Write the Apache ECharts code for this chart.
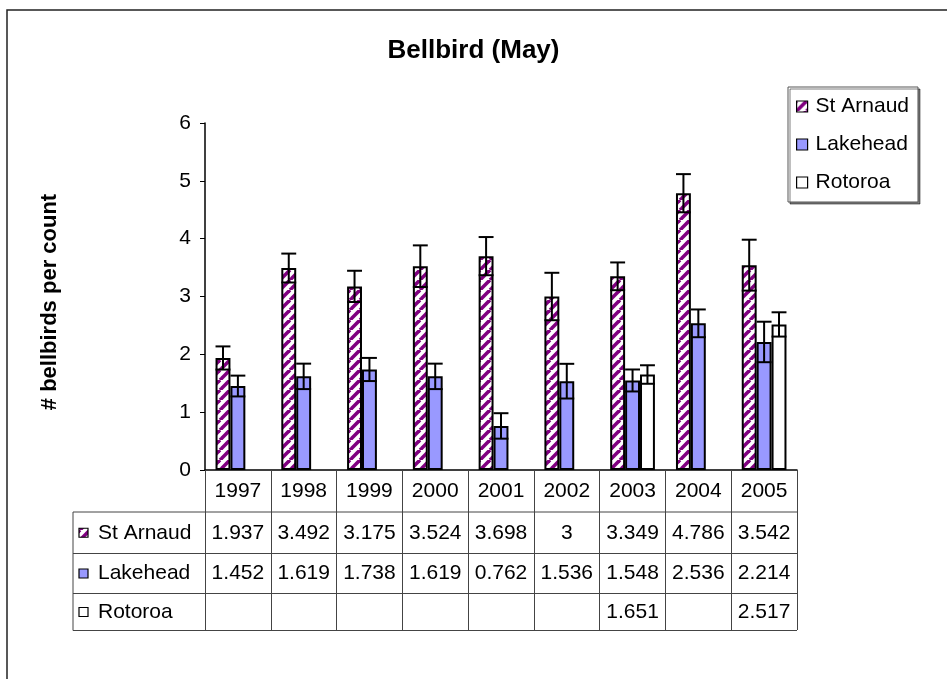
<!DOCTYPE html>
<html><head><meta charset="utf-8">
<script src="https://cdn.jsdelivr.net/npm/echarts@6/dist/echarts.min.js"></script>
<style>html,body{margin:0;padding:0;background:#fff}#c{width:947px;height:679px}</style>
</head><body><div id="c"></div>
<script>
const years = ['1997','1998','1999','2000','2001','2002','2003','2004','2005'];
const seriesNames = ['St Arnaud','Lakehead','Rotoroa'];
const stArnaud = [1.937,3.492,3.175,3.524,3.698,3,3.349,4.786,3.542];
const lakehead = [1.452,1.619,1.738,1.619,0.762,1.536,1.548,2.536,2.214];
const rotoroa  = [null,null,null,null,null,null,1.651,null,2.517];
const stArnaudErr = [0.20,0.25,0.27,0.36,0.33,0.41,0.24,0.33,0.44];
const lakeheadErr = [0.18,0.22,0.20,0.22,0.22,0.30,0.19,0.24,0.35];
const rotoroaErr  = [null,null,null,null,null,null,0.16,null,0.21];
const yTicks = [0,1,2,3,4,5,6];

const FONT = '"Liberation Sans", Arial, sans-serif';
const CAT_GAP = 0.32;
const FS = 21;

function stripePattern(){
  const P = 10;
  const cv = document.createElement('canvas');
  cv.width = P; cv.height = P;
  const ctx = cv.getContext('2d');
  ctx.fillStyle = '#ffffff';
  ctx.fillRect(0,0,P,P);
  ctx.strokeStyle = '#800080';
  ctx.lineWidth = 3.6;
  for (let k=-1;k<=1;k++){
    ctx.beginPath();
    ctx.moveTo(k*P, P);
    ctx.lineTo(k*P+P, 0);
    ctx.stroke();
  }
  return {image: cv, repeat: 'repeat'};
}
const fills = [stripePattern(), '#9999ff', '#ffffff'];
const valuesBySeries = [stArnaud, lakehead, rotoroa];
const errBySeries = [stArnaudErr, lakeheadErr, rotoroaErr];

const errData = [];
valuesBySeries.forEach((vals, s) => {
  vals.forEach((v, i) => {
    if (v != null && errBySeries[s][i] != null) errData.push([i, v, errBySeries[s][i], s]);
  });
});

const chart = echarts.init(document.getElementById('c'), null, {renderer:'canvas'});

const barSeries = seriesNames.map((name, s) => ({
  name: name,
  type: 'bar',
  data: valuesBySeries[s],
  barGap: '0%',
  barCategoryGap: (CAT_GAP*100) + '%',
  itemStyle: {color: fills[s], borderColor: '#000', borderWidth: 2},
  emphasis: {disabled: true},
  z: 2
}));

const option = {
  animation: false,
  backgroundColor: '#ffffff',
  title: {
    text: 'Bellbird (May)',
    left: 'center',
    top: 33,
    textStyle: {fontFamily: FONT, fontSize: 26, fontWeight: 'bold', color: '#000'}
  },
  legend: {
    data: seriesNames,
    orient: 'vertical',
    left: 788,
    top: 87,
    icon: 'rect',
    itemWidth: 11,
    itemHeight: 11,
    itemGap: 17,
    padding: [9, 9, 9, 8],
    backgroundColor: '#fff',
    borderColor: '#555',
    borderWidth: 1,
    shadowColor: 'rgba(0,0,0,0.5)',
    shadowOffsetX: 2,
    shadowOffsetY: 2,
    shadowBlur: 0,
    itemStyle: {borderColor: '#000', borderWidth: 1.2},
    textStyle: {fontFamily: FONT, fontSize: FS, color: '#000', lineHeight: 21, padding: [0,0,0,3]},
    selectedMode: false
  },
  grid: {left: 205, right: 150, top: 123, bottom: 209, containLabel: false},
  xAxis: {
    type: 'category',
    data: years,
    boundaryGap: true,
    axisLine: {show: true, lineStyle: {color: '#000', width: 1.5}},
    axisTick: {show: true, inside: false, length: 160, lineStyle: {color: '#444', width: 1}},
    axisLabel: {fontFamily: FONT, fontSize: FS, color: '#000', margin: 11, interval: 0},
    splitLine: {show: false}
  },
  yAxis: {
    type: 'value',
    min: yTicks[0],
    max: yTicks[yTicks.length-1],
    interval: 1,
    axisLine: {show: true, lineStyle: {color: '#000', width: 1.5}},
    axisTick: {show: true, inside: false, length: 5, lineStyle: {color: '#000'}},
    axisLabel: {fontFamily: FONT, fontSize: FS, color: '#000', margin: 14},
    splitLine: {show: false}
  },
  series: barSeries.concat([{
    type: 'custom',
    name: 'err',
    data: errData,
    z: 5,
    silent: true,
    renderItem: function(params, api){
      const i = api.value(0), v = api.value(1), e = api.value(2), s = api.value(3);
      const band = api.size([1,0])[0];
      const bw = band*(1-CAT_GAP)/3;
      const cx = api.coord([i, 0])[0] + (s-1)*bw;
      const yt = api.coord([i, v+e])[1];
      const yb = api.coord([i, v-e])[1];
      const h = bw/2;
      const st = {stroke: '#000', lineWidth: 2};
      return {type: 'group', children: [
        {type:'line', shape:{x1:cx,y1:yt,x2:cx,y2:yb}, style:st},
        {type:'line', shape:{x1:cx-h,y1:yt,x2:cx+h,y2:yt}, style:st},
        {type:'line', shape:{x1:cx-h,y1:yb,x2:cx+h,y2:yb}, style:st}
      ]};
    }
  }])
};
chart.setOption(option);

// data table beneath the axis
function buildTable(){
  const x0 = chart.convertToPixel({xAxisIndex:0}, 0);
  const x1 = chart.convertToPixel({xAxisIndex:0}, 1);
  const band = x1 - x0;
  const leftEdge = x0 - band/2;
  const rightEdge = leftEdge + band*years.length;
  const yAxis0 = chart.convertToPixel({yAxisIndex:0}, 0);
  const headerH = 42;
  const rowH = [41.5, 40, 37];
  const tableLeft = 73;
  const g = [];
  const ls = {stroke:'#444', lineWidth:1};
  let y = yAxis0 + headerH;
  const rowTops = [y];
  rowH.forEach(h => { y += h; rowTops.push(y); });
  rowTops.forEach(yy => g.push({type:'line', shape:{x1:tableLeft,y1:yy,x2:rightEdge,y2:yy}, style:ls, silent:true}));
  g.push({type:'line', shape:{x1:tableLeft,y1:rowTops[0],x2:tableLeft,y2:rowTops[rowTops.length-1]}, style:ls, silent:true});
  seriesNames.forEach((name, s) => {
    const cy = (rowTops[s] + rowTops[s+1])/2;
    g.push({type:'rect', shape:{x:tableLeft+6, y:cy-4.5, width:9, height:9},
      style:{fill: fills[s], stroke:'#000', lineWidth:1.2}, silent:true});
    g.push({type:'text', x: tableLeft+25, y: cy, silent:true,
      style:{text:name, font:FS + 'px ' + FONT, fill:'#000', textAlign:'left', textVerticalAlign:'middle'}});
    valuesBySeries[s].forEach((v, i) => {
      if (v == null) return;
      const cx = chart.convertToPixel({xAxisIndex:0}, i);
      g.push({type:'text', x: cx, y: cy, silent:true,
        style:{text:String(v), font:FS + 'px ' + FONT, fill:'#000', textAlign:'center', textVerticalAlign:'middle'}});
    });
  });
  // y axis name
  g.push({type:'text', x: 50, y: 302, rotation: Math.PI/2, silent:true,
    style:{text:'# bellbirds per count', font:'bold 22px ' + FONT, fill:'#000', textAlign:'center', textVerticalAlign:'middle'}});
  // outer chart-area border
  g.push({type:'rect', shape:{x:7, y:10, width:1000, height:1000}, style:{fill:'none', stroke:'#222', lineWidth:1.5}, silent:true, z:-1});
  chart.setOption({graphic: g});
}
buildTable();
</script></body></html>
